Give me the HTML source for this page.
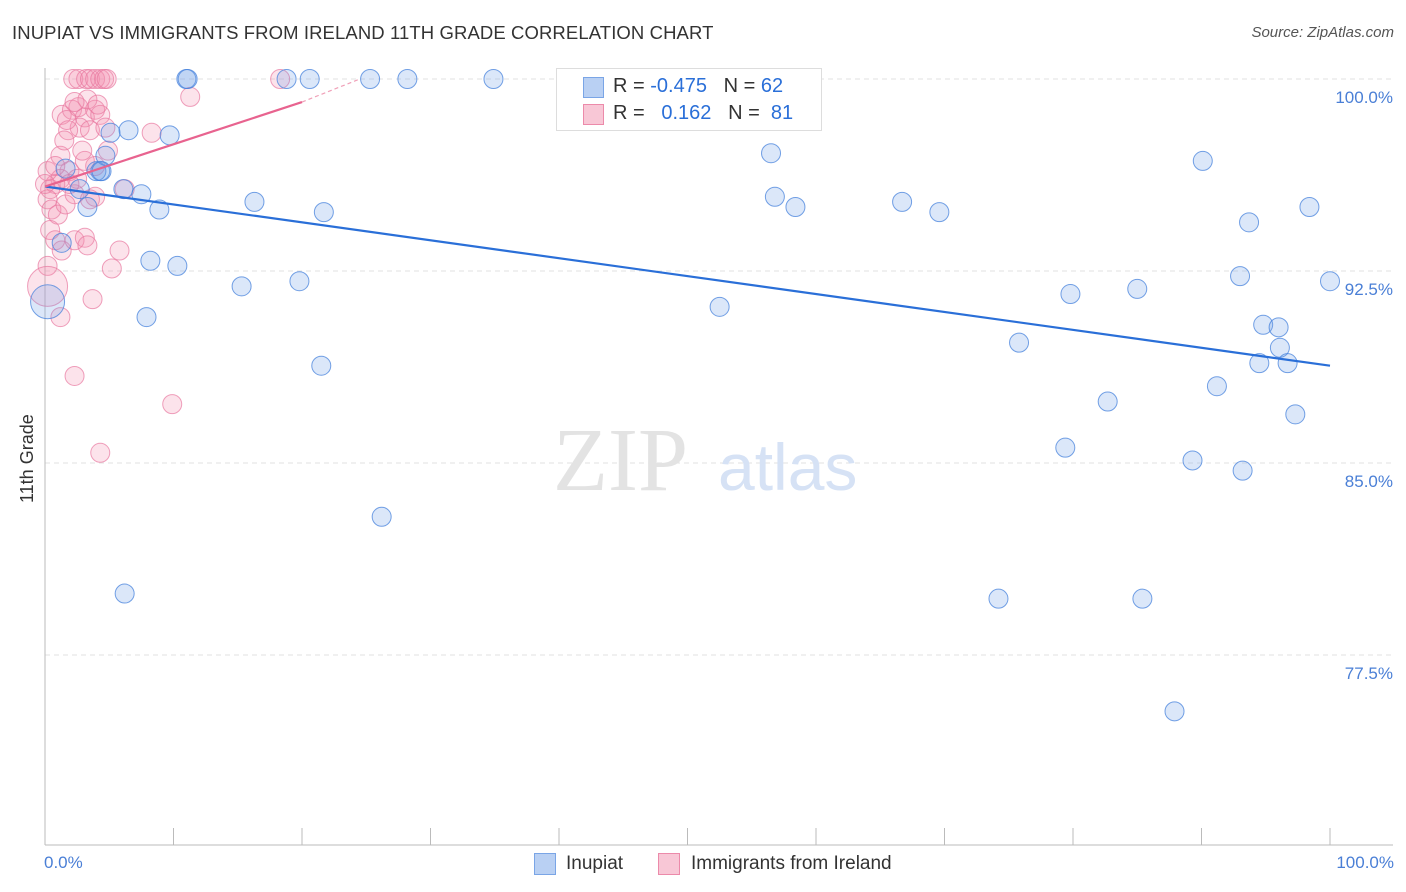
<!DOCTYPE html>
<html><head><meta charset="utf-8"><style>
body{margin:0;background:#fff;font-family:"Liberation Sans",sans-serif}
#wrap{position:relative;width:1406px;height:892px;overflow:hidden}
.t{position:absolute;white-space:nowrap}
</style></head><body>
<div id="wrap">
<div class="t" style="left:12px;top:22px;font-size:18.5px;color:#333;letter-spacing:0.1px">INUPIAT VS IMMIGRANTS FROM IRELAND 11TH GRADE CORRELATION CHART</div>
<div class="t" style="right:12px;top:24px;font-size:15px;color:#555;font-style:italic">Source: ZipAtlas.com</div>
<svg id="svg" width="1406" height="892" style="position:absolute;left:0;top:0"></svg>
</div>
<script>
const yTicks=[100,92.5,85,77.5];
const yTickLabels=["100.0%","92.5%","85.0%","77.5%"];
const blueX=[0.2,1.3,3.3,2.7,4.3,4.0,4.7,5.1,6.5,6.1,7.5,8.9,9.7,8.2,7.9,10.3,11.0,11.1,15.3,16.3,18.8,19.8,20.6,21.5,21.7,25.3,26.2,28.2,34.9,6.2,47.1,52.5,56.5,56.8,58.4,66.7,69.6,74.2,75.8,79.4,79.8,82.7,85.0,85.4,87.9,89.3,90.1,91.2,93.0,93.2,93.7,94.8,96.0,96.1,96.7,94.5,97.3,98.4,100,4.4,1.6];
const blueY=[91.3,93.6,95.0,95.7,96.4,96.4,97.0,97.9,98.0,95.7,95.5,94.9,97.8,92.9,90.7,92.7,100,100,91.9,95.2,100,92.1,100,88.8,94.8,100,82.9,100,100,79.9,100,91.1,97.1,95.4,95.0,95.2,94.8,79.7,89.7,85.6,91.6,87.4,91.8,79.7,75.3,85.1,96.8,88.0,92.3,84.7,94.4,90.4,90.3,89.5,88.9,88.9,86.9,95.0,92.1,96.4,96.5];
const pinkX=[2.2,2.6,3.2,3.5,3.9,4.3,4.6,4.8,18.3,11.3,8.3,1.2,1.3,2.1,2.6,3.1,3.9,4.3,2.7,1.8,3.5,4.7,4.9,3.9,3.1,1.9,1.2,0.8,0.4,0.2,0.5,1.0,1.6,2.3,3.5,3.9,6.2,0.4,0.8,1.3,2.3,3.1,3.3,5.8,5.2,0.2,0.2,3.7,1.2,2.3,9.9,4.3,2.5,1.9,2.9,1.7,1.5,3.3,2.3,4.1,0.2,0.8,0];
const pinkY=[100,100,100,100,100,100,100,100,100,99.3,97.9,97.0,98.6,98.8,98.9,98.5,98.8,98.6,98.1,98.0,98.0,98.1,97.2,96.6,96.8,96.4,96.1,95.9,95.7,95.3,94.9,94.7,95.1,95.5,95.3,95.4,95.7,94.1,93.7,93.3,93.7,93.8,93.5,93.3,92.6,92.7,91.9,91.4,90.7,88.4,87.3,85.4,96.1,95.9,97.2,98.4,97.6,99.2,99.1,99.0,96.4,96.6,95.9];
const blueTrend=[[0,95.8],[100,88.8]];
const pinkTrend=[[0,95.8],[20,99.1]];
const pinkTrendDash=[[20,99.1],[24.5,100]];

const X=v=>45+v*12.85, Y=v=>79+(100-v)/7.5*192;
const svg=document.getElementById('svg');const NS='http://www.w3.org/2000/svg';
function mk(tag,a,name){const e=document.createElementNS(NS,tag);for(const k in a)e.setAttribute(k,a[k]);


svg.appendChild(e);return e;}
yTicks.forEach((t,i)=>{mk('line',{x1:45,x2:1393,y1:Y(t),y2:Y(t),stroke:'#e2e2e2','stroke-dasharray':'5,4'},'gridline');
const tx=mk('text',{x:1393,y:Y(t)+24,'text-anchor':'end',fill:'#4a7fd6','font-size':17,'font-family':'Liberation Sans'},'y-tick-label');tx.textContent=yTickLabels[i];});
mk('line',{x1:45,x2:45,y1:68,y2:845,stroke:'#bbb'},'y-axis');
mk('line',{x1:45,x2:1393,y1:845,y2:845,stroke:'#bbb'},'x-axis');
for(let i=0;i<=10;i++)mk('line',{x1:X(i*10),x2:X(i*10),y1:828,y2:845,stroke:'#bbb'},'x-tick');
const w1=mk('text',{x:553,y:490,fill:'#e3e3e3','font-size':90,'font-family':'Liberation Serif'},'watermark-zip');w1.textContent='ZIP';
const w2=mk('text',{x:718,y:490,fill:'#d6e2f5','font-size':66,'font-family':'Liberation Sans'},'watermark-atlas');w2.textContent='atlas';
pinkX.forEach((x,i)=>{mk('circle',{cx:X(x),cy:Y(pinkY[i]),r:(x===0.2&&pinkY[i]===91.9)?20:9.5,fill:'rgba(244,143,177,0.25)',stroke:'rgba(232,120,160,0.7)','stroke-width':1},'pink-point');});
blueX.forEach((x,i)=>{mk('circle',{cx:X(x),cy:Y(blueY[i]),r:i===0?17:9.5,fill:'rgba(110,160,230,0.25)',stroke:'rgba(70,130,220,0.75)','stroke-width':1},'blue-point');});
mk('line',{x1:X(blueTrend[0][0]),y1:Y(blueTrend[0][1]),x2:X(blueTrend[1][0]),y2:Y(blueTrend[1][1]),stroke:'#2a6fd8','stroke-width':2.2},'blue-trend-line');
mk('line',{x1:X(pinkTrend[0][0]),y1:Y(pinkTrend[0][1]),x2:X(pinkTrend[1][0]),y2:Y(pinkTrend[1][1]),stroke:'#e8638f','stroke-width':2.2},'pink-trend-line');
mk('line',{x1:X(pinkTrendDash[0][0]),y1:Y(pinkTrendDash[0][1]),x2:X(pinkTrendDash[1][0]),y2:Y(pinkTrendDash[1][1]),stroke:'#f0a0b8','stroke-width':1.2,'stroke-dasharray':'4,3'},'pink-trend-dashed');
</script>
<div class="t" style="left:556px;top:68px;width:264px;height:61px;border:1px solid #ddd;background:#fff">
<div class="t" style="left:26px;top:8px;width:19px;height:19px;background:#b9d0f3;border:1px solid #7aa5e6"></div>
<div class="t" style="left:56px;top:6px;font-size:20px;color:#333">R = <span style="color:#2a6fd8">-0.475</span>&nbsp;&nbsp;&nbsp;N = <span style="color:#2a6fd8">62</span></div>
<div class="t" style="left:26px;top:35px;width:19px;height:19px;background:#f8c7d6;border:1px solid #ec8aaa"></div>
<div class="t" style="left:56px;top:33px;font-size:20px;color:#333">R = &nbsp;&nbsp;<span style="color:#2a6fd8">0.162</span>&nbsp;&nbsp;&nbsp;N = &nbsp;<span style="color:#2a6fd8">81</span></div>
</div>
<div class="t" style="left:44px;top:853px;font-size:17px;color:#4a7fd6">0.0%</div>
<div class="t" style="right:12px;top:853px;font-size:17px;color:#4a7fd6">100.0%</div>
<div class="t" style="left:17px;top:503px;font-size:18px;color:#333;transform:rotate(-90deg);transform-origin:left top">11th Grade</div>
<div class="t" style="left:534px;top:853px;width:20px;height:20px;background:#b9d0f3;border:1px solid #7aa5e6"></div>
<div class="t" style="left:566px;top:853px;font-size:19px;color:#333">Inupiat</div>
<div class="t" style="left:658px;top:853px;width:20px;height:20px;background:#f8c7d6;border:1px solid #ec8aaa"></div>
<div class="t" style="left:691px;top:853px;font-size:19px;color:#333">Immigrants from Ireland</div>
</body></html>
